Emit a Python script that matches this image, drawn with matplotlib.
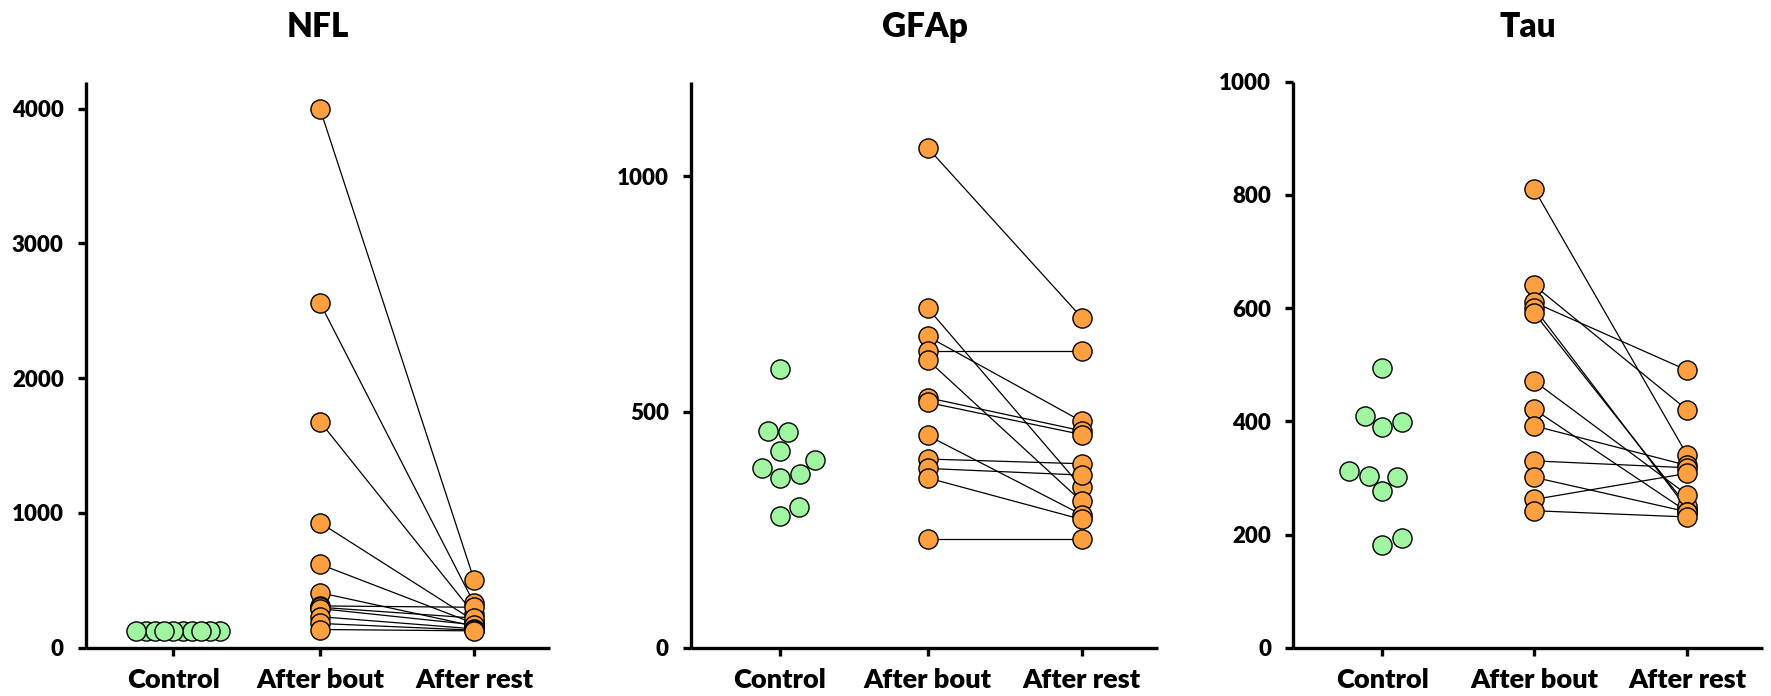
import matplotlib
matplotlib.use('Agg')
import matplotlib.pyplot as plt
import numpy as np

plt.rcParams['font.family'] = ['Lato', 'DejaVu Sans']
plt.rcParams['font.weight'] = 'bold'

# ---------------- data ----------------
categories = ['Control', 'After bout', 'After rest']

nfl_control = [124, 126, 125, 123, 127, 125, 124, 126, 125, 126]
nfl_bout = [4000, 2558, 1678, 928, 619, 408, 310, 300, 290, 230, 180, 135]
nfl_rest = [505, 330, 250, 200, 180, 160, 300, 220, 170, 140, 130, 125]

gfap_control = [590, 460, 458, 418, 399, 369, 380, 359, 298, 280]
gfap_bout = [1060, 720, 660, 630, 610, 530, 520, 450, 400, 380, 360, 230]
gfap_rest = [700, 340, 480, 630, 310, 460, 452, 282, 390, 366, 272, 230]

tau_control = [494, 409, 390, 398, 312, 302, 304, 276, 182, 194]
tau_bout = [810, 640, 610, 600, 591, 471, 421, 392, 330, 301, 262, 242]
tau_rest = [340, 420, 490, 245, 250, 270, 240, 322, 318, 240, 308, 231]

nfl_yticks = [0, 1000, 2000, 3000, 4000]
gfap_yticks = [0, 500, 1000]
tau_yticks = [0, 200, 400, 600, 800, 1000]

GREEN = '#A0F5A0'
ORANGE = '#FFA040'

W, H = 1771, 696
fig = plt.figure(figsize=(W / 100, H / 100), dpi=100)

AX_BOTTOM = 647.7
AX_TOP = 81.7
DOT_PT = 13.8
DOT_PX = (DOT_PT + 1.0) * 100 / 72


def swarm_x(ax, xc, values, sep_px):
    vals = np.asarray(values, dtype=float)
    pts = ax.transData.transform(np.column_stack([np.full(len(vals), xc), vals]))
    ys = pts[:, 1]
    x0 = pts[0, 0]
    order = np.argsort(ys, kind='stable')
    placed = []
    xs = np.zeros(len(vals))
    for i in order:
        y = ys[i]
        cands = [0.0]
        for px, py in placed:
            dy = abs(py - y)
            if dy < sep_px:
                dx = np.sqrt(sep_px ** 2 - dy ** 2)
                cands += [px + dx, px - dx]
        cands.sort(key=abs)
        for c in cands:
            if all((c - px) ** 2 + (y - py) ** 2 >= sep_px ** 2 - 1e-6 for px, py in placed):
                xs[i] = c
                placed.append((c, y))
                break
    data = ax.transData.inverted().transform(np.column_stack([x0 + xs, ys]))
    return data[:, 0]


panels = [
    dict(title='NFL', control=nfl_control, bout=nfl_bout, rest=nfl_rest,
         left=86, right=550, pos=[0, 1, 2.05], xlim=(-0.595, 2.568),
         ylim=(0, 4200), yticks=nfl_yticks, sep=0.45),
    dict(title='GFAp', control=gfap_control, bout=gfap_bout, rest=gfap_rest,
         left=691, right=1158, pos=[0, 1, 2.043], xlim=(-0.6026, 2.56),
         ylim=(0, 1200), yticks=gfap_yticks, sep=1.0),
    dict(title='Tau', control=tau_control, bout=tau_bout, rest=tau_rest,
         left=1293.3, right=1763.3, pos=[0, 1, 2.007], xlim=(-0.5855, 2.507),
         ylim=(0, 1000), yticks=tau_yticks, sep=1.0),
]

for p in panels:
    ax = fig.add_axes([p['left'] / W, 1 - AX_BOTTOM / H,
                       (p['right'] - p['left']) / W, (AX_BOTTOM - AX_TOP) / H])
    ax.set_xlim(*p['xlim'])
    ax.set_ylim(*p['ylim'])
    pos = p['pos']

    # paired lines
    for b, r in zip(p['bout'], p['rest']):
        ax.plot([pos[1], pos[2]], [b, r], color='black', lw=0.9, zorder=2)

    # control swarm
    cx = swarm_x(ax, pos[0], p['control'], DOT_PX * p['sep'])
    ax.scatter(cx, p['control'], s=DOT_PT ** 2, color=GREEN, edgecolor='black',
               linewidth=1.0, zorder=3, clip_on=False)
    ax.scatter(np.full(len(p['bout']), pos[1]), p['bout'], s=DOT_PT ** 2, color=ORANGE,
               edgecolor='black', linewidth=1.0, zorder=3, clip_on=False)
    ax.scatter(np.full(len(p['rest']), pos[2]), p['rest'], s=DOT_PT ** 2, color=ORANGE,
               edgecolor='black', linewidth=1.0, zorder=3, clip_on=False)

    ax.set_xticks(pos)
    ax.set_xticklabels(categories)
    ax.set_yticks(p['yticks'])
    ax.set_yticklabels([str(t) for t in p['yticks']])

    for s in ['top', 'right']:
        ax.spines[s].set_visible(False)
    for s in ['left', 'bottom']:
        ax.spines[s].set_linewidth(2.4)
        ax.spines[s].set_capstyle('butt')
    ax.tick_params(axis='y', length=6, width=2.4, pad=10, labelsize=16)
    ax.tick_params(axis='x', length=5.5, width=2.4, pad=9, labelsize=19.5)
    for lab in ax.get_xticklabels() + ax.get_yticklabels():
        lab.set_fontweight('heavy')
    ax.set_title(p['title'], fontsize=24, fontweight='heavy', pad=32)

fig.savefig('out.png', dpi=100)
